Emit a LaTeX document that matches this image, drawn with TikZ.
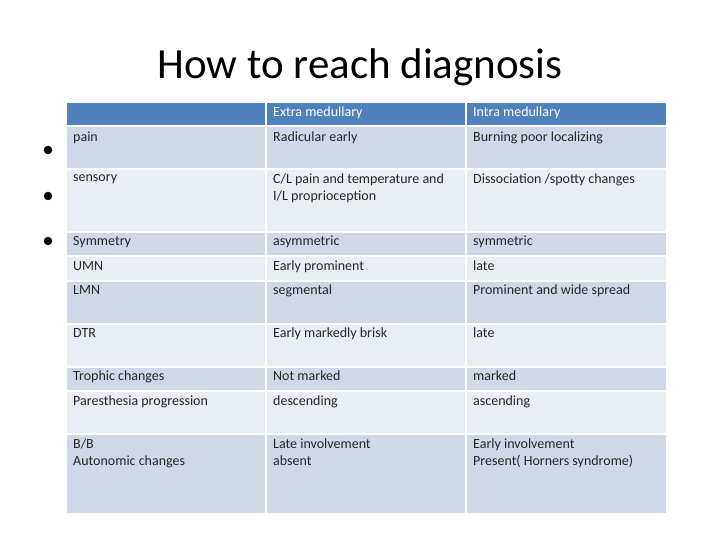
\documentclass[tikz,border=0pt]{standalone}
\usepackage{fontspec}
\setmainfont{Carlito}
\definecolor{hdr}{HTML}{4F81BD}
\definecolor{rowA}{HTML}{D0D8E8}
\definecolor{rowB}{HTML}{E9EDF4}
\begin{document}
\begin{tikzpicture}[x=1pt,y=-1pt,
  cell/.style={anchor=north west,inner sep=0pt,font=\fontsize{14}{17}\selectfont,align=left,text=black!85},
  hcell/.style={cell,text=white},
  bul/.style={circle,fill=black,inner sep=0pt,minimum size=8.5pt}]
\useasboundingbox (0,0) rectangle (720,540);
\fill[white] (0,0) rectangle (720,540);
\node (title) at (360,67) {\fontsize{43}{50}\selectfont How to reach diagnosis};
\fill[hdr] (67,103) rectangle (666,126);
\foreach \a/\b/\c in {126/169/rowA,169/232/rowB,232/256/rowA,256/281/rowB,281/324/rowA,324/367/rowB,367/391/rowA,391/434/rowB,434/513/rowA}
  \fill[\c] (67,\a) rectangle (666,\b);
\foreach \y in {126,169,232,256,281,324,367,391,434}
  \draw[white,line width=1.5pt] (67,\y) -- (666,\y);
\foreach \x in {266,466}
  \draw[white,line width=1.5pt] (\x,103) -- (\x,513);
\node[hcell] (h1) at (273,107) {Extra medullary};
\node[hcell] (h2) at (473,107) {Intra medullary};
\foreach \y/\a/\b/\c [count=\i] in {
 132/pain/Radicular early/Burning poor localizing,
 174/sensory/{C/L pain and temperature and\\I/L proprioception}/{Dissociation /spotty changes},
 236/Symmetry/asymmetric/symmetric,
 261/UMN/Early prominent/late,
 285/LMN/segmental/Prominent and wide spread,
 328/DTR/Early markedly brisk/late,
 371/Trophic changes/Not marked/marked,
 396/Paresthesia progression/descending/ascending,
 439/{B/B\\Autonomic changes}/{Late involvement\\absent}/{Early involvement\\Present( Horners syndrome)}}{
  \node[cell] (a\i) at (73,\y) {\a};
  \node[cell] (b\i) at (273,\y) {\b};
  \node[cell] (c\i) at (473,\y) {\c};
}
\node[bul] (p1) at (48,150) {};
\node[bul] (p2) at (48,196) {};
\node[bul] (p3) at (48,241) {};
\end{tikzpicture}
\end{document}
